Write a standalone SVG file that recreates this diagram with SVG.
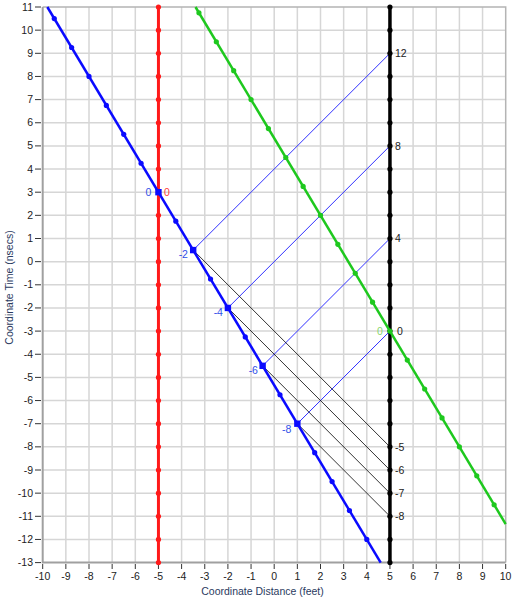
<svg xmlns="http://www.w3.org/2000/svg" width="516" height="600" viewBox="0 0 516 600">
<style>
.grid{stroke:#d6d6d6;stroke-width:1.5;fill:none}
.tick{stroke:#333;stroke-width:1}
.tl{font-family:"Liberation Sans",Arial,sans-serif;font-size:10.5px;fill:#222}
.title{font-family:"Liberation Sans",Arial,sans-serif;font-size:10.5px;fill:#2a3a60}
.lab{font-family:"Liberation Sans",Arial,sans-serif;font-size:10.5px}
.rd{fill:#ff1a1a}
.bk{fill:#000}
.bd{fill:#0a0aff}
.gd{fill:#1ec81e}
</style>
<defs>
<circle id="r" r="2.6" class="rd"/>
<circle id="k" r="2.6" class="bk"/>
<circle id="b" r="2.6" class="bd"/>
<rect id="B" x="-3.2" y="-3.2" width="6.4" height="6.4" class="bd"/>
<circle id="g" r="2.6" class="gd"/>
</defs>
<rect width="516" height="600" fill="#fff"/>
<g id="grid" class="grid">
<path d="M65.85 7V562.6M89 7V562.6M112.15 7V562.6M135.3 7V562.6M158.45 7V562.6M181.6 7V562.6M204.75 7V562.6M227.9 7V562.6M251.05 7V562.6M274.2 7V562.6M297.35 7V562.6M320.5 7V562.6M343.65 7V562.6M366.8 7V562.6M389.95 7V562.6M413.1 7V562.6M436.25 7V562.6M459.4 7V562.6M482.55 7V562.6"/>
<path d="M42.7 30.15H505.7M42.7 53.3H505.7M42.7 76.45H505.7M42.7 99.6H505.7M42.7 122.75H505.7M42.7 145.9H505.7M42.7 169.05H505.7M42.7 192.2H505.7M42.7 215.35H505.7M42.7 238.5H505.7M42.7 261.65H505.7M42.7 284.8H505.7M42.7 307.95H505.7M42.7 331.1H505.7M42.7 354.25H505.7M42.7 377.4H505.7M42.7 400.55H505.7M42.7 423.7H505.7M42.7 446.85H505.7M42.7 470H505.7M42.7 493.15H505.7M42.7 516.3H505.7M42.7 539.45H505.7"/>
</g>
<g id="frame">
<path d="M42.7 7H505.7V562.6" fill="none" stroke="#b4b4b4" stroke-width="1.5"/>
<path d="M42.7 7V562.6H505.7" fill="none" stroke="#a0a0a0" stroke-width="2"/>
</g>
<g id="y-axis">
<path class="tick" d="M35 7H41M35 30.15H41M35 53.3H41M35 76.45H41M35 99.6H41M35 122.75H41M35 145.9H41M35 169.05H41M35 192.2H41M35 215.35H41M35 238.5H41M35 261.65H41M35 284.8H41M35 307.95H41M35 331.1H41M35 354.25H41M35 377.4H41M35 400.55H41M35 423.7H41M35 446.85H41M35 470H41M35 493.15H41M35 516.3H41M35 539.45H41M35 562.6H41"/>
<g class="tl" text-anchor="end">
<text x="33" y="10.5">11</text><text x="33" y="33.65">10</text><text x="33" y="56.8">9</text><text x="33" y="79.95">8</text><text x="33" y="103.1">7</text><text x="33" y="126.25">6</text><text x="33" y="149.4">5</text><text x="33" y="172.55">4</text><text x="33" y="195.7">3</text><text x="33" y="218.85">2</text><text x="33" y="242">1</text><text x="33" y="265.15">0</text><text x="33" y="288.3">-1</text><text x="33" y="311.45">-2</text><text x="33" y="334.6">-3</text><text x="33" y="357.75">-4</text><text x="33" y="380.9">-5</text><text x="33" y="404.05">-6</text><text x="33" y="427.2">-7</text><text x="33" y="450.35">-8</text><text x="33" y="473.5">-9</text><text x="33" y="496.65">-10</text><text x="33" y="519.8">-11</text><text x="33" y="542.95">-12</text><text x="33" y="566.1">-13</text>
</g>
<text class="title" transform="translate(13 287.5) rotate(-90)" text-anchor="middle">Coordinate Time (nsecs)</text>
</g>
<g id="x-axis">
<path class="tick" d="M42.7 564V569M65.85 564V569M89 564V569M112.15 564V569M135.3 564V569M158.45 564V569M181.6 564V569M204.75 564V569M227.9 564V569M251.05 564V569M274.2 564V569M297.35 564V569M320.5 564V569M343.65 564V569M366.8 564V569M389.95 564V569M413.1 564V569M436.25 564V569M459.4 564V569M482.55 564V569M505.7 564V569"/>
<g class="tl" text-anchor="middle">
<text x="42.7" y="580">-10</text><text x="65.85" y="580">-9</text><text x="89" y="580">-8</text><text x="112.15" y="580">-7</text><text x="135.3" y="580">-6</text><text x="158.45" y="580">-5</text><text x="181.6" y="580">-4</text><text x="204.75" y="580">-3</text><text x="227.9" y="580">-2</text><text x="251.05" y="580">-1</text><text x="274.2" y="580">0</text><text x="297.35" y="580">1</text><text x="320.5" y="580">2</text><text x="343.65" y="580">3</text><text x="366.8" y="580">4</text><text x="389.95" y="580">5</text><text x="413.1" y="580">6</text><text x="436.25" y="580">7</text><text x="459.4" y="580">8</text><text x="482.55" y="580">9</text><text x="505.5" y="580">10</text>
</g>
<text class="title" x="262.5" y="595" text-anchor="middle">Coordinate Distance (feet)</text>
</g>
<g id="connectors">
<g stroke="#3030ff" stroke-width="1" fill="none">
<path d="M193.18 250.08L389.95 53.3M227.9 307.95L389.95 145.9M262.63 365.83L389.95 238.5M297.35 423.7L389.95 331.1"/>
</g>
<g stroke="#000" stroke-width="0.8" fill="none">
<path d="M193.18 250.08L389.95 446.85M227.9 307.95L389.95 470M262.63 365.83L389.95 493.15M297.35 423.7L389.95 516.3"/>
</g>
</g>
<g id="red-worldline">
<path d="M158.45 7V562.6" stroke="#ff1a1a" stroke-width="3"/>
<use href="#r" x="158.45" y="7"/><use href="#r" x="158.45" y="30.15"/><use href="#r" x="158.45" y="53.3"/><use href="#r" x="158.45" y="76.45"/><use href="#r" x="158.45" y="99.6"/><use href="#r" x="158.45" y="122.75"/><use href="#r" x="158.45" y="145.9"/><use href="#r" x="158.45" y="169.05"/><use href="#r" x="158.45" y="192.2"/><use href="#r" x="158.45" y="215.35"/><use href="#r" x="158.45" y="238.5"/><use href="#r" x="158.45" y="261.65"/><use href="#r" x="158.45" y="284.8"/><use href="#r" x="158.45" y="307.95"/><use href="#r" x="158.45" y="331.1"/><use href="#r" x="158.45" y="354.25"/><use href="#r" x="158.45" y="377.4"/><use href="#r" x="158.45" y="400.55"/><use href="#r" x="158.45" y="423.7"/><use href="#r" x="158.45" y="446.85"/><use href="#r" x="158.45" y="470"/><use href="#r" x="158.45" y="493.15"/><use href="#r" x="158.45" y="516.3"/><use href="#r" x="158.45" y="539.45"/><use href="#r" x="158.45" y="562.6"/>
<text class="lab" x="164" y="196" fill="#ff3a3a">0</text>
</g>
<g id="black-worldline">
<path d="M389.95 7V562.6" stroke="#000" stroke-width="3.5"/>
<use href="#k" x="389.95" y="7"/><use href="#k" x="389.95" y="30.15"/><use href="#k" x="389.95" y="53.3"/><use href="#k" x="389.95" y="76.45"/><use href="#k" x="389.95" y="99.6"/><use href="#k" x="389.95" y="122.75"/><use href="#k" x="389.95" y="145.9"/><use href="#k" x="389.95" y="169.05"/><use href="#k" x="389.95" y="192.2"/><use href="#k" x="389.95" y="215.35"/><use href="#k" x="389.95" y="238.5"/><use href="#k" x="389.95" y="261.65"/><use href="#k" x="389.95" y="284.8"/><use href="#k" x="389.95" y="307.95"/><use href="#k" x="389.95" y="331.1"/><use href="#k" x="389.95" y="354.25"/><use href="#k" x="389.95" y="377.4"/><use href="#k" x="389.95" y="400.55"/><use href="#k" x="389.95" y="423.7"/><use href="#k" x="389.95" y="446.85"/><use href="#k" x="389.95" y="470"/><use href="#k" x="389.95" y="493.15"/><use href="#k" x="389.95" y="516.3"/><use href="#k" x="389.95" y="539.45"/><use href="#k" x="389.95" y="562.6"/>
<g class="lab" fill="#222">
<text x="395" y="57">12</text><text x="395" y="149.6">8</text><text x="395" y="242.2">4</text><text x="397" y="334.8">0</text><text x="395" y="450.5">-5</text><text x="395" y="473.7">-6</text><text x="395" y="496.8">-7</text><text x="395" y="520">-8</text>
</g>
</g>
<g id="green-worldline">
<path d="M195.49 7L505.7 524.02" stroke="#1ec81e" stroke-width="2.5"/>
<use href="#g" x="198.96" y="12.79"/><use href="#g" x="216.33" y="41.73"/><use href="#g" x="233.69" y="70.66"/><use href="#g" x="251.05" y="99.6"/><use href="#g" x="268.41" y="128.54"/><use href="#g" x="285.78" y="157.48"/><use href="#g" x="303.14" y="186.41"/><use href="#g" x="320.5" y="215.35"/><use href="#g" x="337.86" y="244.29"/><use href="#g" x="355.23" y="273.23"/><use href="#g" x="372.59" y="302.16"/><use href="#g" x="389.95" y="331.1"/><use href="#g" x="407.31" y="360.04"/><use href="#g" x="424.68" y="388.98"/><use href="#g" x="442.04" y="417.91"/><use href="#g" x="459.4" y="446.85"/><use href="#g" x="476.76" y="475.79"/><use href="#g" x="494.13" y="504.73"/>
<text class="lab" x="377" y="335" fill="#88d870">0</text>
</g>
<g id="blue-worldline">
<path d="M47.33 7L380.69 562.6" stroke="#0a0aff" stroke-width="2.5"/>
<use href="#b" x="54.28" y="18.58"/><use href="#b" x="71.64" y="47.51"/><use href="#b" x="89" y="76.45"/><use href="#b" x="106.36" y="105.39"/><use href="#b" x="123.73" y="134.33"/><use href="#b" x="141.09" y="163.26"/><use href="#B" x="158.45" y="192.2"/><use href="#b" x="175.81" y="221.14"/><use href="#B" x="193.18" y="250.08"/><use href="#b" x="210.54" y="279.01"/><use href="#B" x="227.9" y="307.95"/><use href="#b" x="245.26" y="336.89"/><use href="#B" x="262.63" y="365.83"/><use href="#b" x="279.99" y="394.76"/><use href="#B" x="297.35" y="423.7"/><use href="#b" x="314.71" y="452.64"/><use href="#b" x="332.08" y="481.58"/><use href="#b" x="349.44" y="510.51"/><use href="#b" x="366.8" y="539.45"/>
<g class="lab" fill="#3050e8" text-anchor="middle">
<text x="148.3" y="196">0</text><text x="183.3" y="258">-2</text><text x="218.3" y="316">-4</text><text x="253.3" y="374">-6</text><text x="286.7" y="432.5">-8</text>
</g>
</g>
</svg>
